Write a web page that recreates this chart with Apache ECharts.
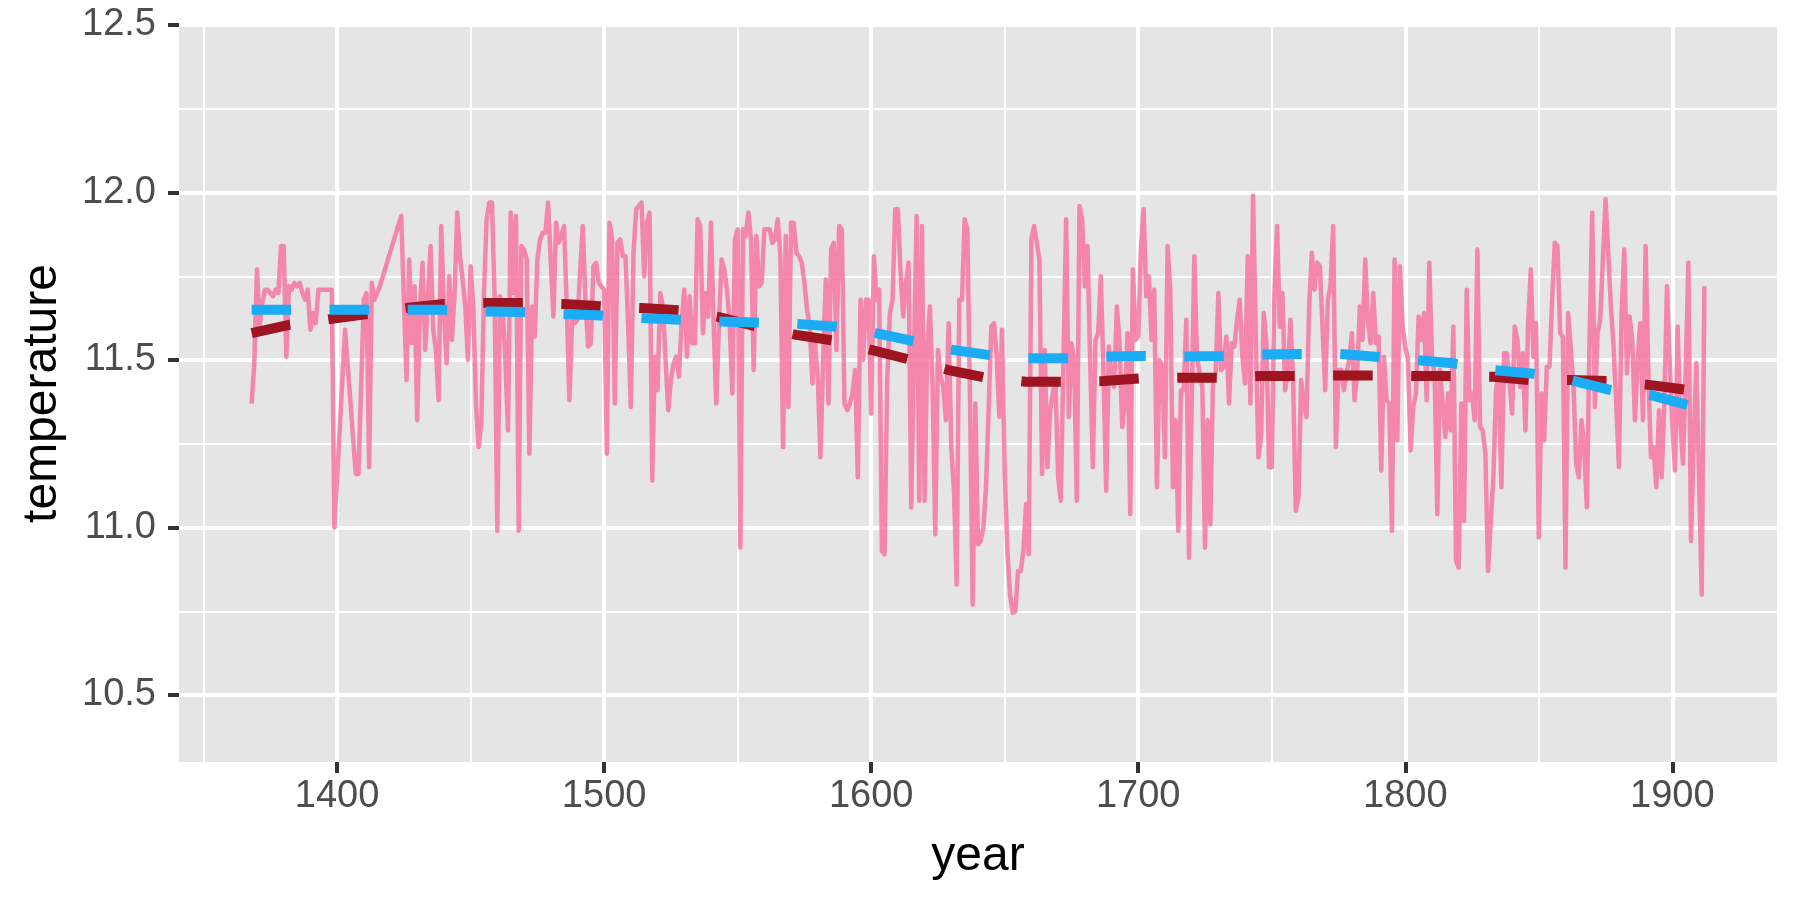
<!DOCTYPE html>
<html lang="en">
<head>
<meta charset="UTF-8">
<title>temperature by year</title>
<style>
  html, body { margin: 0; padding: 0; background: #fff; }
  #main { width: 1800px; height: 900px; }
</style>
</head>
<body>
<div id="main"></div>
<script src="https://cdn.jsdelivr.net/npm/echarts@6/dist/echarts.min.js"></script>
<script>
    // yearly temperature readings
    var years = [
        1368, 1369, 1370, 1371, 1372, 1373, 1374, 1375, 1376, 1377,
        1378, 1379, 1380, 1381, 1382, 1383, 1384, 1385, 1386, 1387,
        1388, 1389, 1390, 1391, 1392, 1393, 1394, 1395, 1396, 1397,
        1398, 1399,
        1403, 1407, 1408, 1410, 1411, 1412, 1413, 1414, 1416, 1424,
        1426, 1427, 1428, 1429, 1430, 1431, 1432, 1433,
        1435, 1436, 1437, 1438, 1439, 1440, 1441, 1442, 1443, 1444,
        1445, 1446, 1447, 1448, 1449, 1450, 1451, 1452, 1453, 1454,
        1455, 1456, 1457, 1458, 1459, 1460, 1461, 1462, 1463, 1464,
        1465, 1466, 1467, 1468, 1469, 1470, 1471, 1472, 1473, 1474,
        1475, 1476, 1477, 1478, 1479, 1480, 1481, 1482, 1483, 1484,
        1485, 1486, 1487, 1488, 1489, 1490, 1491, 1492, 1493, 1494,
        1495, 1496, 1497, 1498, 1499, 1500, 1501, 1502, 1503, 1504,
        1505, 1506, 1507, 1508, 1509, 1510, 1511, 1512, 1513, 1514,
        1515, 1516, 1517, 1518, 1519, 1520, 1521, 1522, 1523, 1524,
        1525, 1526, 1527, 1528, 1529, 1530, 1531, 1532, 1533, 1534,
        1535, 1536, 1537, 1538, 1539, 1540, 1541, 1542, 1543, 1544,
        1545, 1546, 1547, 1548, 1549, 1550, 1551, 1552, 1553, 1554,
        1555, 1556, 1557, 1558, 1559, 1560, 1561, 1562, 1563, 1564,
        1565, 1566, 1567, 1568, 1569, 1570, 1571, 1572, 1573, 1574,
        1575, 1576, 1577, 1578, 1579, 1580, 1581, 1582, 1583, 1584,
        1585, 1586, 1587, 1588, 1589, 1590, 1591, 1592, 1593, 1594,
        1595, 1596, 1597, 1598, 1599, 1600, 1601, 1602, 1603, 1604,
        1605, 1606, 1607, 1608, 1609, 1610, 1611, 1612, 1613, 1614,
        1615, 1616, 1617, 1618, 1619, 1620, 1621, 1622, 1623, 1624,
        1625, 1626, 1627, 1628, 1629, 1630, 1631, 1632, 1633, 1634,
        1635, 1636, 1637, 1638, 1639, 1640, 1641, 1642, 1643, 1644,
        1645, 1646, 1647, 1648, 1649, 1650, 1651, 1652, 1653, 1654,
        1655, 1656, 1657, 1658, 1659, 1660, 1661, 1662, 1663, 1664,
        1665, 1666, 1667, 1668, 1669, 1670, 1671, 1672, 1673, 1674,
        1675, 1676, 1677, 1678, 1679, 1680, 1681, 1682, 1683, 1684,
        1685, 1686, 1687, 1688, 1689, 1690, 1691, 1692, 1693, 1694,
        1695, 1696, 1697, 1698, 1699, 1700, 1701, 1702, 1703, 1704,
        1705, 1706, 1707, 1708, 1709, 1710, 1711, 1712, 1713, 1714,
        1715, 1716, 1717, 1718, 1719,
        1721, 1722, 1723, 1724, 1725, 1726, 1727, 1728, 1729, 1730,
        1731, 1732, 1733, 1734, 1735, 1736, 1737, 1738, 1739, 1740,
        1741, 1742, 1743, 1744, 1745, 1746, 1747, 1748, 1749, 1750,
        1751, 1752, 1753, 1754, 1755, 1756, 1757, 1758, 1759, 1760,
        1761, 1762, 1763, 1764, 1765, 1766, 1767, 1768, 1769, 1770,
        1771, 1772, 1773, 1774, 1775, 1776, 1777, 1778, 1779, 1780,
        1781, 1782, 1783, 1784, 1785, 1786, 1787, 1788, 1789, 1790,
        1791, 1792, 1793, 1794, 1795, 1796, 1797, 1798, 1799, 1800,
        1801, 1802, 1803, 1804, 1805, 1806, 1807, 1808, 1809, 1810,
        1811, 1812, 1813, 1814, 1815, 1816, 1817, 1818, 1819, 1820,
        1821, 1822, 1823, 1824, 1825, 1826, 1827, 1828, 1829, 1830,
        1831, 1832, 1833, 1834, 1835, 1836, 1837, 1838, 1839, 1840,
        1841, 1842, 1843, 1844, 1845, 1846, 1847, 1848, 1849, 1850,
        1851, 1852, 1853, 1854, 1855, 1856, 1857, 1858, 1859, 1860,
        1861,
        1863, 1864, 1865, 1866, 1867, 1868, 1869, 1870, 1871, 1872,
        1873, 1874, 1875, 1876, 1877, 1878, 1879, 1880, 1881, 1882,
        1883, 1884, 1885, 1886, 1887, 1888, 1889, 1890, 1891, 1892,
        1893, 1894, 1895, 1896, 1897, 1898, 1899, 1900, 1901, 1902,
        1903, 1904, 1905, 1906, 1907, 1908, 1909, 1910, 1911, 1912
    ];
    var temps = [
        11.37, 11.49, 11.77, 11.60, 11.67, 11.71, 11.71, 11.70, 11.69, 11.71,
        11.70, 11.84, 11.84, 11.51, 11.72, 11.71, 11.73, 11.72, 11.73, 11.70,
        11.68, 11.71, 11.59, 11.64, 11.61, 11.71, 11.71, 11.71, 11.71, 11.71,
        11.71, 11.00,
        11.59, 11.16, 11.16, 11.68, 11.70, 11.18, 11.73, 11.68, 11.72, 11.93,
        11.44, 11.80, 11.55, 11.72, 11.32, 11.65, 11.79, 11.53,
        11.84, 11.59, 11.53, 11.38, 11.90, 11.65, 11.49, 11.75, 11.56, 11.70,
        11.94, 11.81, 11.74, 11.66, 11.50, 11.78, 11.66, 11.37, 11.24, 11.31,
        11.70, 11.92, 11.97, 11.97, 11.68, 10.99, 11.69, 11.66, 11.50, 11.29,
        11.94, 11.70, 11.93, 10.99, 11.84, 11.83, 11.80, 11.22, 11.66, 11.57,
        11.80, 11.86, 11.88, 11.88, 11.97, 11.80, 11.63, 11.91, 11.85, 11.87,
        11.90, 11.66, 11.38, 11.62, 11.61, 11.62, 11.76, 11.90, 11.68, 11.54,
        11.55, 11.78, 11.79, 11.73, 11.72, 11.71, 11.22, 11.91, 11.86, 11.37,
        11.85, 11.86, 11.81, 11.81, 11.60, 11.36, 11.82, 11.95, 11.96, 11.97,
        11.75, 11.91, 11.94, 11.14, 11.51, 11.41, 11.70, 11.66, 11.50, 11.35,
        11.44, 11.49, 11.51, 11.45, 11.61, 11.71, 11.51, 11.69, 11.55, 11.55,
        11.92, 11.90, 11.58, 11.70, 11.63, 11.91, 11.61, 11.37, 11.61, 11.80,
        11.77, 11.71, 11.61, 11.40, 11.86, 11.89, 10.94, 11.89, 11.87, 11.94,
        11.86, 11.47, 11.87, 11.72, 11.73, 11.89, 11.89, 11.89, 11.85, 11.86,
        11.92, 11.81, 11.24, 11.87, 11.36, 11.91, 11.91, 11.82, 11.81, 11.79,
        11.73, 11.65, 11.60, 11.43, 11.55, 11.45, 11.21, 11.50, 11.74, 11.37,
        11.83, 11.85, 11.53, 11.90, 11.89, 11.37, 11.35, 11.37, 11.40, 11.47,
        11.15, 11.68, 11.50, 11.68, 11.68, 11.34, 11.81, 11.68, 11.71, 10.93,
        10.92, 11.44, 11.64, 11.68, 11.95, 11.95, 11.76, 11.63, 11.73, 11.79,
        11.06, 11.50, 11.93, 11.08, 11.90, 11.08, 11.54, 11.66, 11.42, 10.98,
        11.53, 11.45, 11.42, 11.32, 11.61, 11.24, 11.11, 10.83, 11.68, 11.68,
        11.92, 11.89, 11.39, 10.77, 11.37, 10.95, 10.96, 11.00, 11.12, 11.36,
        11.60, 11.61, 11.51, 11.33, 11.59, 11.17, 10.93, 10.80, 10.745, 10.75,
        10.87, 10.87, 10.93, 11.07, 10.92, 11.86, 11.90, 11.85, 11.80, 11.16,
        11.53, 11.18, 11.35, 11.40, 11.44, 11.15, 11.08, 11.50, 11.92, 11.33,
        11.55, 11.50, 11.08, 11.96, 11.92, 11.72, 11.84, 11.50, 11.18, 11.56,
        11.58, 11.75, 11.46, 11.11, 11.54, 11.44, 11.42, 11.66, 11.55, 11.30,
        11.37, 11.58, 11.04, 11.77, 11.56, 11.57, 11.83, 11.95, 11.69, 11.75,
        11.56, 11.71, 11.12, 11.50, 11.48, 11.21, 11.84, 11.71, 11.12, 11.32,
        10.99, 11.41, 11.41, 11.62, 10.91,
        11.81, 11.51, 11.46, 11.42, 10.94, 11.32, 11.01, 11.44, 11.46, 11.70,
        11.47, 11.48, 11.57, 11.37, 11.55, 11.54, 11.62, 11.68, 11.51, 11.43,
        11.81, 11.37, 11.99, 11.58, 11.21, 11.27, 11.64, 11.55, 11.18, 11.18,
        11.70, 11.90, 11.60, 11.70, 11.41, 11.46, 11.62, 11.44, 11.05, 11.09,
        11.44, 11.37, 11.33, 11.66, 11.82, 11.71, 11.79, 11.78, 11.60, 11.41,
        11.68, 11.72, 11.90, 11.24, 11.47, 11.47, 11.41, 11.46, 11.50, 11.58,
        11.38, 11.46, 11.66, 11.56, 11.80, 11.62, 11.55, 11.70, 11.55, 11.57,
        11.17, 11.51, 11.38, 11.37, 10.99, 11.80, 11.26, 11.78, 11.60, 11.54,
        11.50, 11.23, 11.36, 11.40, 11.63, 11.56, 11.64, 11.38, 11.79, 11.50,
        11.46, 11.04, 11.47, 11.37, 11.27, 11.40, 11.29, 11.60, 10.90, 10.88,
        11.37, 11.02, 11.71, 11.38, 11.40, 11.32, 11.83, 11.30, 11.29, 11.22,
        10.87, 11.02, 11.15, 11.41, 11.46, 11.12, 11.52, 11.52, 11.44, 11.34,
        11.60, 11.56, 11.42, 11.52, 11.29, 11.61, 11.77, 11.51, 11.61, 10.97,
        11.40, 11.26, 11.48, 11.48, 11.68, 11.85, 11.84, 11.58, 11.57, 10.88,
        11.64,
        11.42, 11.19, 11.15, 11.32, 11.24, 11.06, 11.56, 11.94, 11.36, 11.58,
        11.62, 11.80, 11.98, 11.82, 11.66, 11.54, 11.37, 11.18, 11.64, 11.83,
        11.46, 11.63, 11.56, 11.32, 11.50, 11.61, 11.32, 11.84, 11.46, 11.21,
        11.24, 11.12, 11.35, 11.15, 11.37, 11.72, 11.50, 11.31, 11.17, 11.60,
        11.31, 11.19, 11.46, 11.79, 10.96, 11.25, 11.49, 11.15, 10.80, 11.72
    ];

    // the two fitted trend lines (dark red and light blue dashes)
    var fitYears = [1368, 1382, 1400, 1414, 1426, 1440, 1455, 1470, 1485, 1499,
        1514, 1529, 1543, 1557, 1572, 1586, 1600, 1615, 1629, 1643,
        1658, 1672, 1687, 1701, 1716, 1731, 1746, 1760, 1775, 1789,
        1804, 1818, 1833, 1847, 1862, 1877, 1892, 1906, 1912];
    var fitRed = [11.58, 11.605, 11.625, 11.64, 11.655, 11.667, 11.67, 11.67, 11.667, 11.66,
        11.655, 11.648, 11.628, 11.60, 11.575, 11.558, 11.53, 11.50, 11.47, 11.447,
        11.435, 11.435, 11.437, 11.445, 11.447, 11.447, 11.452, 11.452, 11.454, 11.454,
        11.452, 11.452, 11.45, 11.44, 11.44, 11.437, 11.425, 11.41, 11.40];
    var fitBlue = [11.65, 11.65, 11.65, 11.65, 11.65, 11.65, 11.645, 11.643, 11.637, 11.633,
        11.625, 11.62, 11.615, 11.612, 11.608, 11.60, 11.583, 11.558, 11.532, 11.516,
        11.505, 11.505, 11.51, 11.512, 11.51, 11.512, 11.516, 11.518, 11.518, 11.51,
        11.50, 11.49, 11.47, 11.46, 11.44, 11.41, 11.395, 11.365, 11.355];

    var xTicks = [1400, 1500, 1600, 1700, 1800, 1900];
    var xMinor = [1350, 1450, 1550, 1650, 1750, 1850];
    var yTicks = [10.5, 11.0, 11.5, 12.0, 12.5];
    var yMinor = [10.75, 11.25, 11.75, 12.25];

    function pairs(xs, ys) {
        return xs.map(function (x, i) { return [x, ys[i]]; });
    }

    var xMin = 1340.8, xMax = 1939.2;
    var yMin = 10.3, yMax = 12.5;

    var myChart = echarts.init(document.getElementById('main'));
    myChart.setOption({
        animation: false,
        textStyle: { fontFamily: 'Liberation Sans, Arial, sans-serif' },
        grid: {
            left: 179, right: 23, top: 25, bottom: 138,
            show: true, backgroundColor: '#E5E5E5', borderWidth: 0
        },
        xAxis: [{
            type: 'value', min: xMin, max: xMax,
            name: 'year', nameLocation: 'middle', nameGap: 71,
            nameTextStyle: { fontSize: 48, color: '#000' },
            axisLine: { show: false },
            axisTick: { length: 11, customValues: xTicks, lineStyle: { color: '#333', width: 4 } },
            axisLabel: {
                customValues: xTicks, fontSize: 38, color: '#4D4D4D', margin: 16,
                formatter: function (v) { return String(v); }
            },
            splitLine: { show: true, lineStyle: { color: '#fff', width: 4 } }
        }, {
            type: 'value', min: xMin, max: xMax, position: 'top',
            axisLine: { show: false },
            axisTick: { show: false, customValues: xMinor },
            axisLabel: { show: false },
            splitLine: { show: true, lineStyle: { color: '#fff', width: 2 } }
        }],
        yAxis: [{
            type: 'value', min: yMin, max: yMax,
            name: 'temperature', nameLocation: 'middle', nameGap: 112,
            nameTextStyle: { fontSize: 48, color: '#000' },
            axisLine: { show: false },
            axisTick: { length: 11, customValues: yTicks, lineStyle: { color: '#333', width: 4 } },
            axisLabel: {
                customValues: yTicks, fontSize: 38, color: '#4D4D4D', margin: 23,
                formatter: function (v) { return v.toFixed(1); }
            },
            splitLine: { show: true, lineStyle: { color: '#fff', width: 4 } }
        }, {
            type: 'value', min: yMin, max: yMax, position: 'right',
            axisLine: { show: false },
            axisTick: { show: false, customValues: yMinor },
            axisLabel: { show: false },
            splitLine: { show: true, lineStyle: { color: '#fff', width: 2 } }
        }],
        series: [{
            name: 'temperature',
            type: 'line',
            data: pairs(years, temps),
            symbol: 'none',
            lineStyle: { color: 'rgba(246,112,158,0.82)', width: 4.5, join: 'round' }
        }, {
            name: 'fit 1',
            type: 'line',
            data: pairs(fitYears, fitRed),
            symbol: 'none',
            lineStyle: { color: '#9E1420', width: 10, type: [39.5, 38.5], cap: 'butt' }
        }, {
            name: 'fit 2',
            type: 'line',
            data: pairs(fitYears, fitBlue),
            symbol: 'none',
            lineStyle: { color: '#1AADF5', width: 10, type: [39.5, 38.5], cap: 'butt' }
        }]
    });
</script>
</body>
</html>
